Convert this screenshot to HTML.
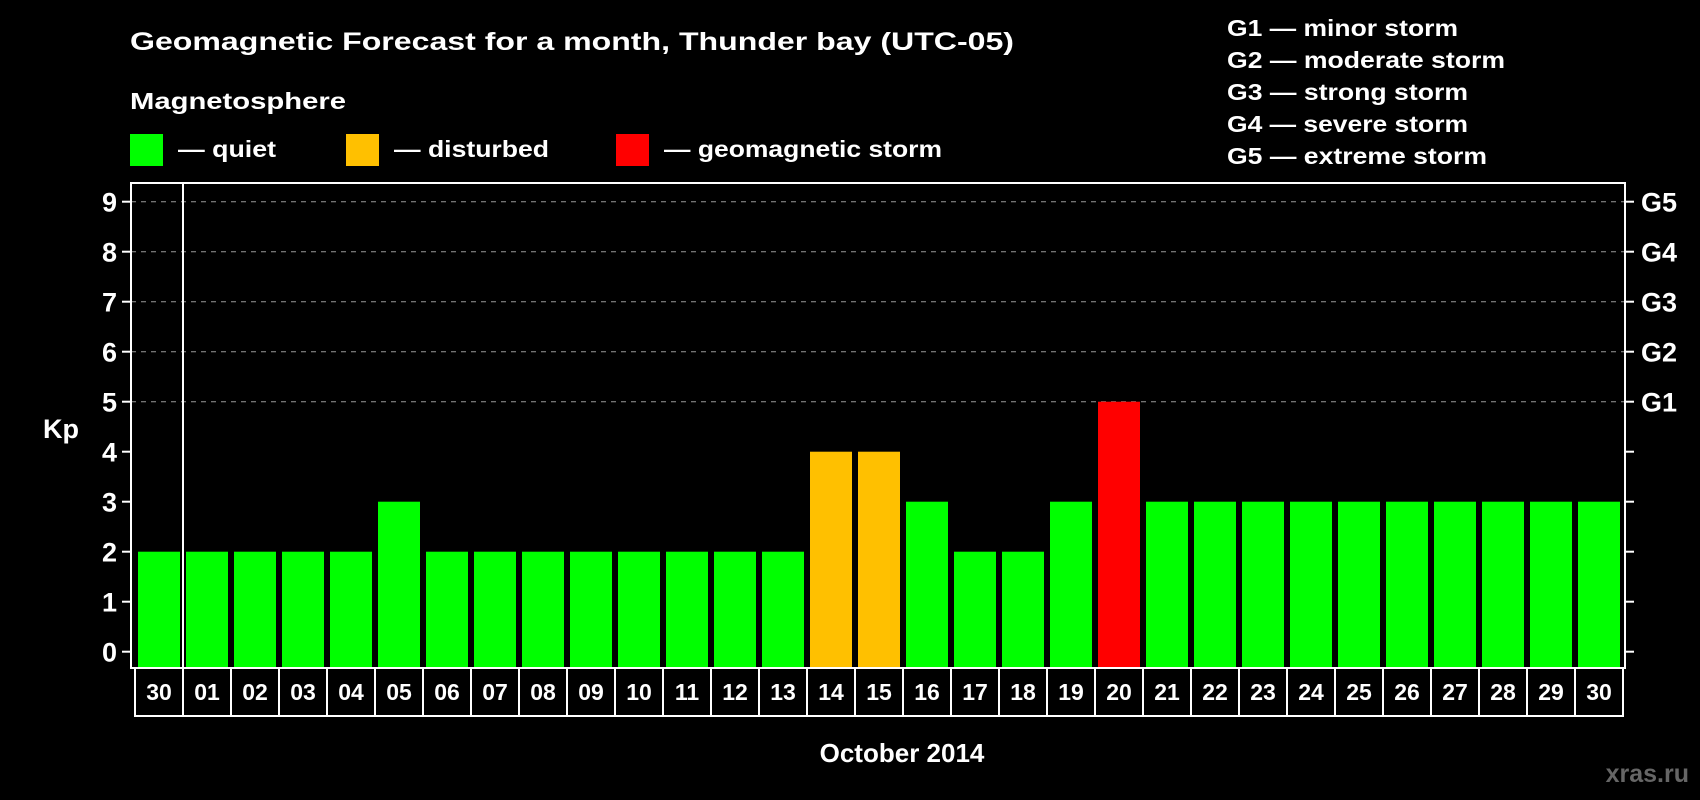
<!DOCTYPE html>
<html><head><meta charset="utf-8"><style>
html,body{margin:0;padding:0;background:#000;}
svg{display:block;font-family:"Liberation Sans",Arial,sans-serif;font-weight:bold;}
</style></head><body>
<svg id="chart" width="1700" height="800" viewBox="0 0 1700 800" xmlns="http://www.w3.org/2000/svg">
<rect width="1700" height="800" fill="#000"/>
<text x="130" y="50" fill="#fff" font-size="25" textLength="884" lengthAdjust="spacingAndGlyphs">Geomagnetic Forecast for a month, Thunder bay (UTC-05)</text>
<text x="130" y="109" fill="#fff" font-size="23" textLength="216" lengthAdjust="spacingAndGlyphs">Magnetosphere</text>
<g>
<rect x="130" y="134" width="33" height="32" fill="#00ff00"/>
<text x="178" y="157" fill="#fff" font-size="23" textLength="98" lengthAdjust="spacingAndGlyphs">— quiet</text>
</g>
<g>
<rect x="346" y="134" width="33" height="32" fill="#ffc000"/>
<text x="394" y="157" fill="#fff" font-size="23" textLength="155" lengthAdjust="spacingAndGlyphs">— disturbed</text>
</g>
<g>
<rect x="616" y="134" width="33" height="32" fill="#ff0000"/>
<text x="664" y="157" fill="#fff" font-size="23" textLength="278" lengthAdjust="spacingAndGlyphs">— geomagnetic storm</text>
</g>
<g font-size="23" fill="#fff">
<text x="1227" y="36" textLength="231" lengthAdjust="spacingAndGlyphs">G1 — minor storm</text>
<text x="1227" y="68" textLength="278" lengthAdjust="spacingAndGlyphs">G2 — moderate storm</text>
<text x="1227" y="100" textLength="241" lengthAdjust="spacingAndGlyphs">G3 — strong storm</text>
<text x="1227" y="132" textLength="241" lengthAdjust="spacingAndGlyphs">G4 — severe storm</text>
<text x="1227" y="164" textLength="260" lengthAdjust="spacingAndGlyphs">G5 — extreme storm</text>
</g>
<text x="43" y="438" fill="#fff" font-size="27">Kp</text>
<g id="plot"></g>
<text x="902" y="762" fill="#fff" font-size="26" text-anchor="middle">October 2014</text>
<text x="1689" y="782" fill="#666" font-size="25" text-anchor="end">xras.ru</text>
</svg>
<script>
const dayLabels = ["30","01","02","03","04","05","06","07","08","09","10","11","12","13","14","15","16","17","18","19","20","21","22","23","24","25","26","27","28","29","30"];
const kpValues = [2,2,2,2,2,3,2,2,2,2,2,2,2,2,4,4,3,2,2,3,5,3,3,3,3,3,3,3,3,3,3];
const yTicks = [0,1,2,3,4,5,6,7,8,9];
const gLevels = [5,6,7,8,9];
const gLabels = ["G1","G2","G3","G4","G5"];

const NS = "http://www.w3.org/2000/svg";
const plot = document.getElementById("plot");
const L = 131, R = 1625, T = 183, B = 668;
const y0 = 651.7, unit = 50;
const yScale = v => y0 - v * unit;
const step = 48, barW = 42, barX0 = 138, cellX0 = 135;
const xBar = i => barX0 + step * i;
function mk(tag, attrs){ const e = document.createElementNS(NS, tag); for (const k in attrs) e.setAttribute(k, attrs[k]); plot.appendChild(e); return e; }

// gridlines
gLevels.forEach(v => {
  const g = mk("line", {x1:L, x2:R, y1:yScale(v), y2:yScale(v), stroke:"#999", "stroke-width":1, "stroke-dasharray":"5,5"});
  
  
});
// bars
kpValues.forEach((v, i) => {
  const color = v >= 5 ? "#ff0000" : (v >= 4 ? "#ffc000" : "#00ff00");
  const b = mk("rect", {x:xBar(i), y:yScale(v), width:barW, height:B - yScale(v), fill:color});
  
  
});
// frame
const fr = mk("rect", {x:L, y:T, width:R-L, height:B-T, fill:"none", stroke:"#fff", "stroke-width":2});


const sep = mk("line", {x1:183, x2:183, y1:T, y2:B, stroke:"#fff", "stroke-width":2});


// y ticks & labels
yTicks.forEach(v => {
  const t = mk("line", {x1:L-9, x2:L, y1:yScale(v), y2:yScale(v), stroke:"#fff", "stroke-width":2});
  
  
  const t2 = mk("line", {x1:R, x2:R+9, y1:yScale(v), y2:yScale(v), stroke:"#fff", "stroke-width":2});
  
  
  const tx = mk("text", {x:L-14, y:yScale(v)+10, fill:"#fff", "font-size":27, "text-anchor":"end"});
  tx.textContent = v;
  
  
});
gLevels.forEach((v, i) => {
  const tx = mk("text", {x:R+16, y:yScale(v)+10, fill:"#fff", "font-size":27});
  tx.textContent = gLabels[i];
  
  
});
// date cells
const cells = mk("rect", {x:cellX0, y:B, width:step*dayLabels.length, height:48, fill:"none", stroke:"#fff", "stroke-width":2});


dayLabels.forEach((d, i) => {
  if (i > 0) {
    const l = mk("line", {x1:cellX0+step*i, x2:cellX0+step*i, y1:B, y2:B+48, stroke:"#fff", "stroke-width":2});
    
    
  }
  const tx = mk("text", {x:cellX0+step*i+step/2, y:B+32, fill:"#fff", "font-size":23, "text-anchor":"middle"});
  tx.textContent = d;
  
  
});
</script>
</body></html>
